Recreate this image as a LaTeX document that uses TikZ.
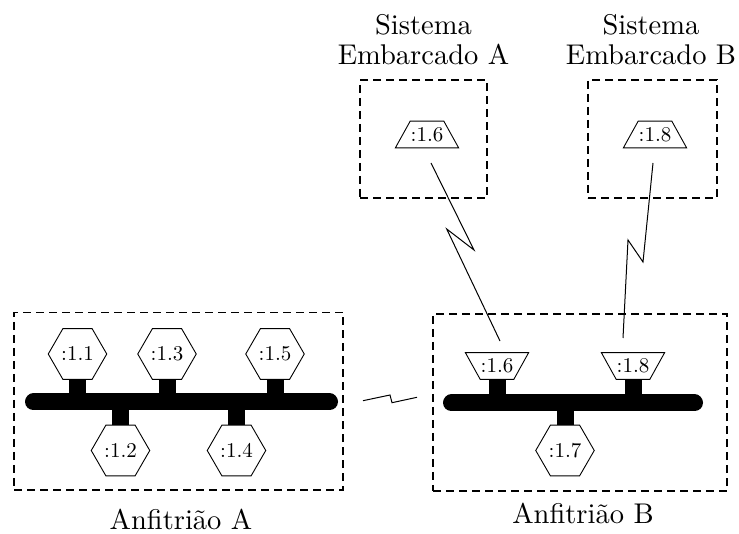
\documentclass[tikz,border=0pt]{standalone}
\usepackage{fontspec}
% the 10pt design of Latin Modern at every size
\setmainfont{lmroman10-regular}[Extension=.otf]
\usetikzlibrary{shapes.geometric}
\begin{document}
\begin{tikzpicture}[x=1pt,y=-1pt,
  hostbox/.style={draw, line width=1.4pt, dash pattern=on 8pt off 5pt, inner sep=0pt},
  hexif/.style={regular polygon, regular polygon sides=6, minimum size=58.5pt,
    draw, fill=white, line width=0.9pt, inner sep=0pt,
    font=\fontsize{21}{24}\selectfont},
  ifup/.style={trapezium, trapezium left angle=61, trapezium right angle=61,
    inner xsep=0.5pt, inner ysep=6.1pt,
    draw, fill=white, line width=0.9pt, font=\fontsize{21}{24}\selectfont},
  ifdown/.style={ifup, shape border rotate=180},
  bus/.style={line width=17pt, line cap=round},
  stem/.style={line width=17pt},
  radio/.style={line width=1pt, line join=miter},
  caption/.style={font=\fontsize{28.5}{30}\selectfont, inner sep=0pt, anchor=base}
]
\useasboundingbox (0,0) rectangle (739,534);

% enclosing boxes
\node[hostbox, minimum width=329pt, minimum height=177.5pt] (hostA) at (178.5,401.25) {};
\node[hostbox, minimum width=294pt, minimum height=177pt] (hostB) at (580,402.5) {};
\node[hostbox, minimum width=127pt, minimum height=118pt] (embA) at (423.5,139) {};
\node[hostbox, minimum width=129pt, minimum height=118pt] (embB) at (652.5,139) {};

% captions
\node[caption] (capA) at (181,529) {Anfitrião A};
\node[caption] (capB) at (583,523) {Anfitrião B};
\node[caption] (titA1) at (423.5,35) {Sistema};
\node[caption] (titA2) at (423.5,65) {Embarcado A};
\node[caption] (titB1) at (651,35) {Sistema};
\node[caption] (titB2) at (651,65) {Embarcado B};

% buses
\coordinate (busAl) at (33.5,402);
\coordinate (busAr) at (329.5,402);
\coordinate (busBl) at (451.5,403);
\coordinate (busBr) at (694.5,403);
\draw[bus] (busAl) -- (busAr);
\draw[bus] (busBl) -- (busBr);

% interfaces of host A
\node[hexif] (h11) at (77.5,354) {:1.1};
\node[hexif] (h13) at (167,354) {:1.3};
\node[hexif] (h15) at (275,354) {:1.5};
\node[hexif] (h12) at (120.5,450.5) {:1.2};
\node[hexif] (h14) at (236.5,450.5) {:1.4};

% interfaces of host B
\node[ifdown] (t16) at (497,366) {:1.6};
\node[ifdown] (t18) at (633,366) {:1.8};
\node[hexif] (h17) at (565,450.5) {:1.7};

% interfaces of the embedded systems
\node[ifup] (s16) at (427,134.5) {:1.6};
\node[ifup] (s18) at (655,134.5) {:1.8};

% stems joining interfaces to the buses
\foreach \n in {h11,h13,h15}
  \draw[stem] (\n.south) -- (\n.south |- busAl);
\foreach \n in {h12,h14}
  \draw[stem] (\n.north) -- (\n.north |- busAl);
\foreach \n in {t16,t18}
  \draw[stem] (\n.south) -- (\n.south |- busBl);
\draw[stem] (h17.north) -- (h17.north |- busBl);

% wireless links
\coordinate (wA0) at (431,163);
\coordinate (wA3) at (500,341);
\draw[radio] (wA0) -- (474,250) -- (446.7,229) -- (wA3);
\coordinate (wB0) at (653,163);
\coordinate (wB3) at (623,338);
\draw[radio] (wB0) -- (643,262) -- (628,240) -- (wB3);
\coordinate (wH0) at (363,400.7);
\coordinate (wH3) at (417,397.3);
\draw[radio] (wH0) -- (390,395) -- (392,402.7) -- (wH3);
\end{tikzpicture}
\end{document}
